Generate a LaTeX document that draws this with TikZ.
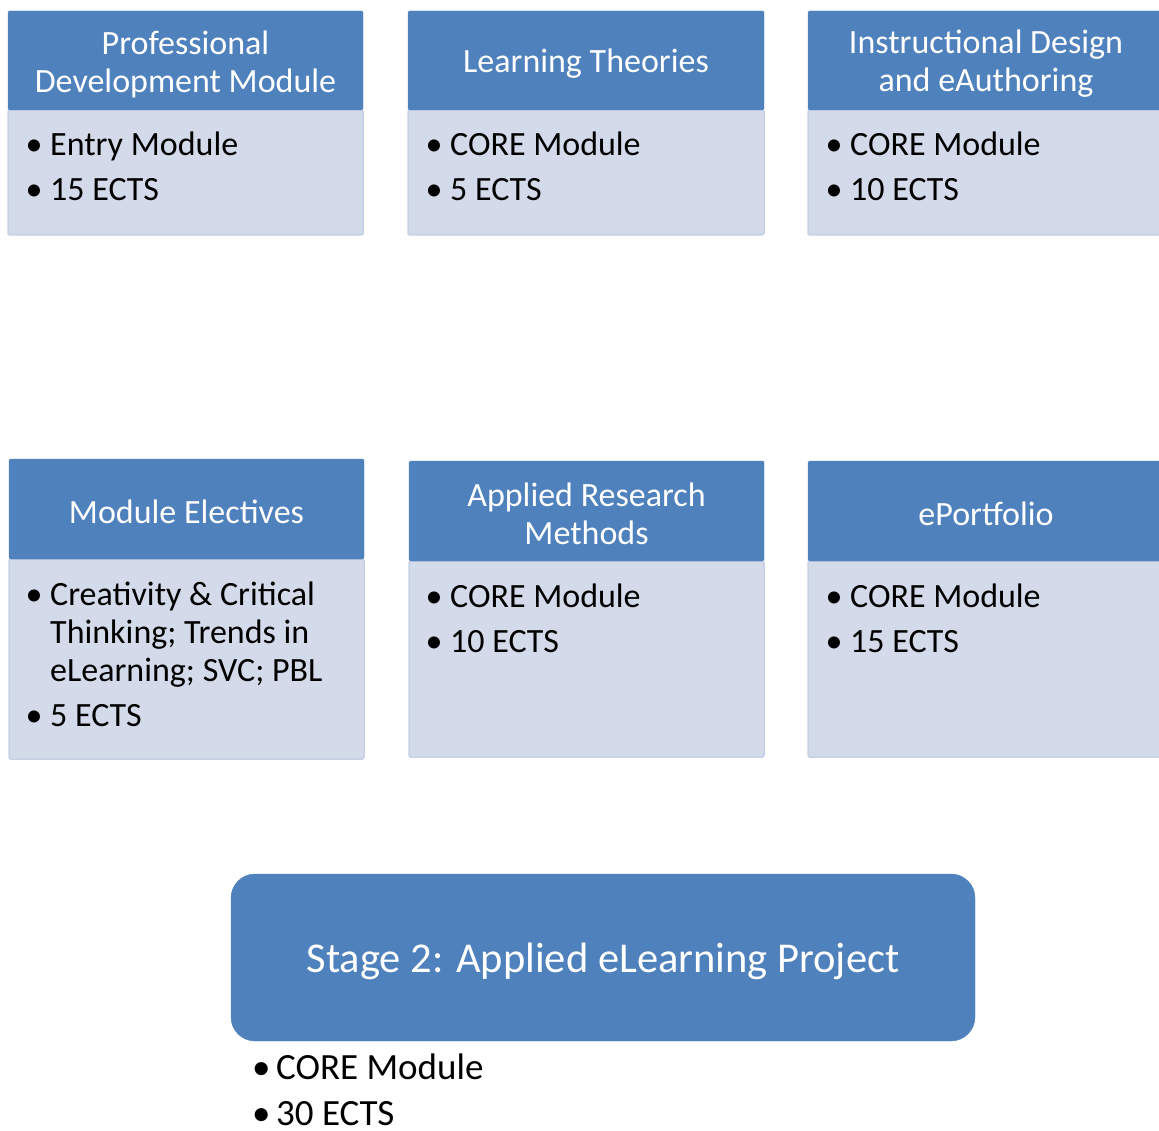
\documentclass[tikz,border=0pt]{standalone}
\usepackage{fontspec}
\setmainfont{Carlito}
\definecolor{hdrblue}{HTML}{4F81BD}
\definecolor{bodyfill}{HTML}{D3DBEA}
\definecolor{bodyedge}{HTML}{C6D1E5}
\tikzset{
  hdr/.style={fill=hdrblue, draw=hdrblue, rounded corners=1.5pt},
  body/.style={fill=bodyfill, draw=bodyedge, line width=1.5pt, rounded corners=1.5pt},
  htext/.style={text=white, align=center, font=\fontsize{34}{38}\selectfont, inner sep=0pt},
  item/.style={anchor=base west, inner sep=0pt, font=\fontsize{34}{38}\selectfont},
  bul/.style={anchor=base west, inner sep=0pt, font=\fontsize{34}{38}\selectfont},
  stagebox/.style={fill=hdrblue, draw=hdrblue, rounded corners=24pt},
}
\newcommand{\blt}{\textbullet}
\begin{document}
\begin{tikzpicture}[x=1pt,y=-1pt]
\useasboundingbox (0,0) rectangle (1159,1131);
\clip (0,0) rectangle (1159,1131);
\fill[white] (0,0) rectangle (1159,1131);

% ---- top row ----
\draw[body] (8,110) rectangle (363,235);
\draw[hdr] (8,11) rectangle (363,110);
\node[htext] (h1) at (185.5,64) {Professional\\Development Module};
\node[bul] (b1a) at (25.5,156) {\blt};
\node[item] (t1a) at (50,156) {Entry Module};
\node[bul] (b1b) at (25.5,201) {\blt};
\node[item] (t1b) at (50,201) {15 ECTS};

\draw[body] (408,110) rectangle (764,235);
\draw[hdr] (408,11) rectangle (764,110);
\node[htext] (h2) at (586,64) {Learning Theories};
\node[bul] (b2a) at (425.5,156) {\blt};
\node[item] (t2a) at (450,156) {CORE Module};
\node[bul] (b2b) at (425.5,201) {\blt};
\node[item] (t2b) at (450,201) {5 ECTS};

\draw[body] (808,110) rectangle (1164,235);
\draw[hdr] (808,11) rectangle (1164,110);
\node[htext] (h3) at (986,64) {Instructional Design\\and eAuthoring};
\node[bul] (b3a) at (825.5,156) {\blt};
\node[item] (t3a) at (850,156) {CORE Module};
\node[bul] (b3b) at (825.5,201) {\blt};
\node[item] (t3b) at (850,201) {10 ECTS};

% ---- second row ----
\draw[body] (9,559) rectangle (364,759);
\draw[hdr] (9,459) rectangle (364,559);
\node[htext] (h4) at (186.5,512) {Module Electives};
\node[bul] (b4a) at (25.5,605) {\blt};
\node[item] (t4a) at (50,605) {Creativity \& Critical};
\node[item] (t4b) at (50,643) {Thinking; Trends in};
\node[item] (t4c) at (50,681) {eLearning; SVC; PBL};
\node[bul] (b4d) at (25.5,726) {\blt};
\node[item] (t4d) at (50,726) {5 ECTS};

\draw[body] (409,561) rectangle (764,757);
\draw[hdr] (409,461) rectangle (764,561);
\node[htext] (h5) at (586.5,514) {Applied Research\\Methods};
\node[bul] (b5a) at (425.5,607) {\blt};
\node[item] (t5a) at (450,607) {CORE Module};
\node[bul] (b5b) at (425.5,652) {\blt};
\node[item] (t5b) at (450,652) {10 ECTS};

\draw[body] (808,561) rectangle (1164,757);
\draw[hdr] (808,461) rectangle (1164,561);
\node[htext] (h6) at (986,514) {ePortfolio};
\node[bul] (b6a) at (825.5,607) {\blt};
\node[item] (t6a) at (850,607) {CORE Module};
\node[bul] (b6b) at (825.5,652) {\blt};
\node[item] (t6b) at (850,652) {15 ECTS};

% ---- stage 2 ----
\draw[stagebox] (231,874) rectangle (975,1041);
\node[htext, font=\fontsize{42.5}{48}\selectfont] (s2) at (603,961) {Stage 2: Applied eLearning Project};
\node[bul, font=\fontsize{37}{44}\selectfont] (b7a) at (252,1079) {\blt};
\node[item, font=\fontsize{37}{44}\selectfont] (t7a) at (276,1079) {CORE Module};
\node[bul, font=\fontsize{37}{44}\selectfont] (b7b) at (252,1125) {\blt};
\node[item, font=\fontsize{37}{44}\selectfont] (t7b) at (276,1125) {30 ECTS};
\end{tikzpicture}
\end{document}
